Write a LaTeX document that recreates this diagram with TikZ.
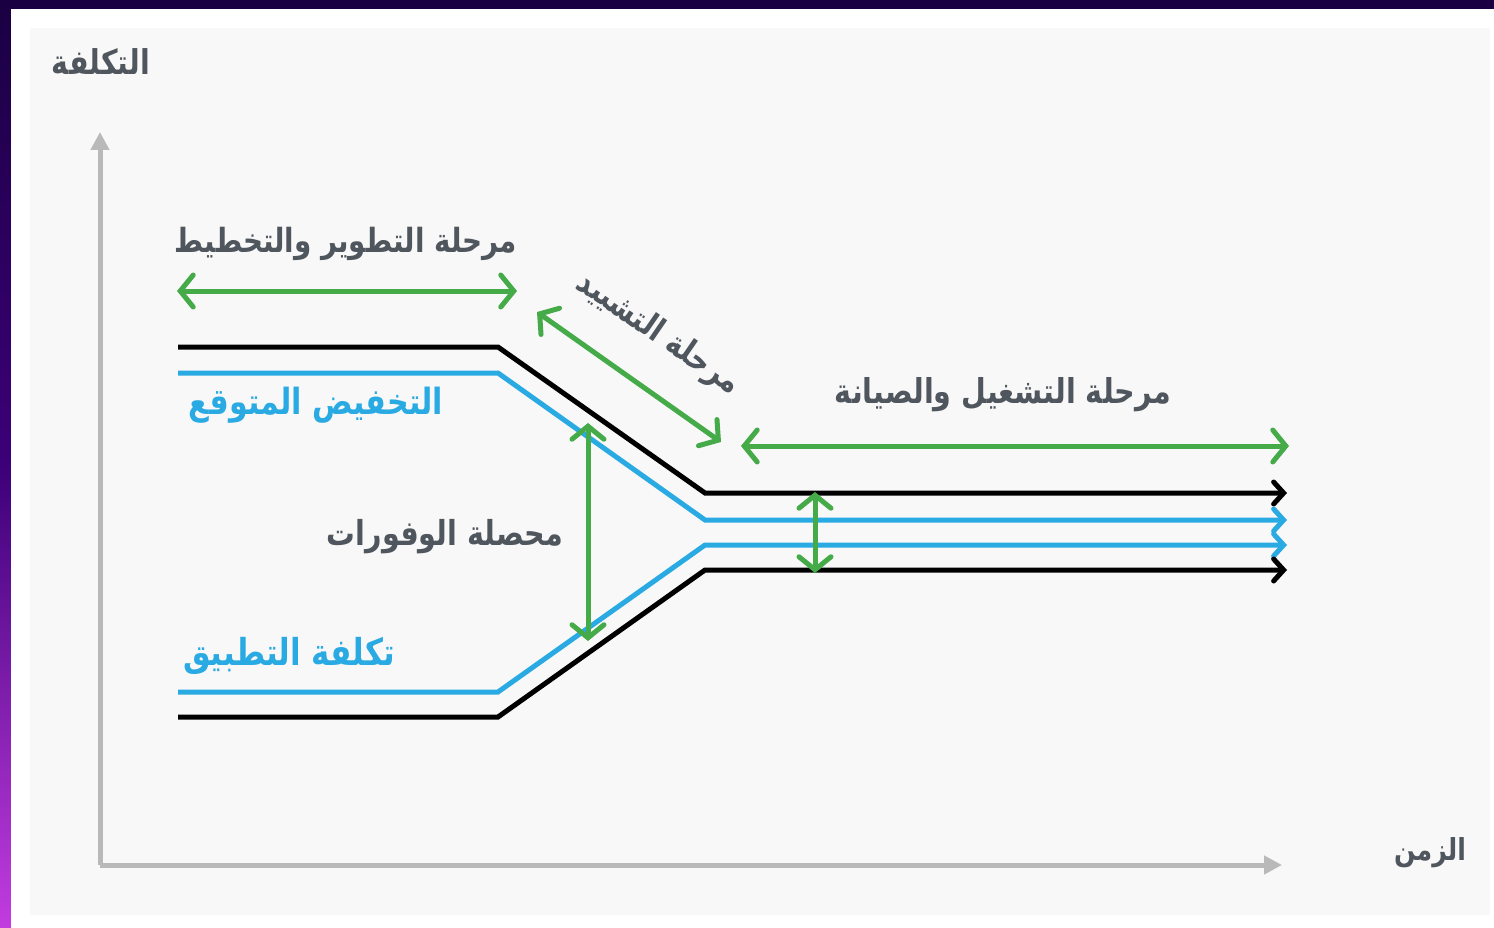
\documentclass[tikz,border=0pt]{standalone}
\usepackage{fontspec}
\usetikzlibrary{arrows.meta}
\TeXXeTstate=1
\newfontfamily\arabicfont[Script=Arabic]{DejaVu Sans}
\definecolor{framedark}{HTML}{1A0042}
\definecolor{framemid}{HTML}{3C0078}
\definecolor{framelight}{HTML}{C23CE0}
\definecolor{panel}{HTML}{F8F8F8}
\definecolor{axisgrey}{HTML}{B9B9B9}
\definecolor{textgrey}{HTML}{50565E}
\definecolor{costblue}{HTML}{2AAAE2}
\definecolor{phasegreen}{HTML}{45AA48}
% text scaled to a given width in pt, slightly taller than its natural shape
\newcommand{\fitw}[2]{\scalebox{1}[1.2]{\resizebox{#1pt}{!}{\arabicfont\bfseries #2}}}
\begin{document}
\begin{tikzpicture}[x=1pt,y=-1pt,
  axisline/.style={draw=axisgrey,line width=5pt,-{Triangle[length=18pt,width=18pt]}},
  costline/.style={line width=5pt,line join=miter,-{Straight Barb[length=10pt,width=22pt,line cap=round]}},
  phasearrow/.style={draw=phasegreen,line width=5pt,line cap=round,
    {Straight Barb[length=13pt,width=32pt,line cap=round]}-{Straight Barb[length=13pt,width=32pt,line cap=round]}},
  label/.style={inner sep=0pt,text=textgrey},
  bluelabel/.style={inner sep=0pt,text=costblue}]
\useasboundingbox (0,0) rectangle (1494,928);
% frame and panel
\fill[framedark] (0,0) rectangle (1494,928);
\shade[top color=framedark,bottom color=framelight,middle color=framemid] (0,0) rectangle (11,928);
\fill[white] (11,9) rectangle (1494,928);
\fill[panel] (30,28) rectangle (1490,915);
% axes
\coordinate (origin) at (100,865);
\coordinate (ytop) at (100,132);
\coordinate (xend) at (1282,865);
\draw[axisline] (origin) -- (ytop);
\draw[axisline] (origin) -- (xend);
\node[label] (ylabel) at (101,62) {\fitw{98}{\beginR التكلفة\endR}};
\node[label] (xlabel) at (1430,853) {\fitw{72}{\beginR الزمن\endR}};
% cost curves
\coordinate (a0) at (178,347); \coordinate (a1) at (498,347); \coordinate (a2) at (705,493); \coordinate (a3) at (1287,493);
\coordinate (b0) at (178,373); \coordinate (b1) at (498,373); \coordinate (b2) at (705,520); \coordinate (b3) at (1287,520);
\coordinate (c0) at (178,692); \coordinate (c1) at (498,692); \coordinate (c2) at (705,545); \coordinate (c3) at (1287,545);
\coordinate (d0) at (178,717); \coordinate (d1) at (498,717); \coordinate (d2) at (705,570); \coordinate (d3) at (1287,570);
\draw[costline,draw=black] (a0) -- (a1) -- (a2) -- (a3);
\draw[costline,draw=costblue] (b0) -- (b1) -- (b2) -- (b3);
\draw[costline,draw=costblue] (c0) -- (c1) -- (c2) -- (c3);
\draw[costline,draw=black] (d0) -- (d1) -- (d2) -- (d3);
% phase arrows
\coordinate (p1l) at (177,291); \coordinate (p1r) at (517,291);
\coordinate (p2a) at (537,312); \coordinate (p2b) at (721,442);
\coordinate (p3l) at (741,446); \coordinate (p3r) at (1289,446);
\coordinate (s1t) at (588,423); \coordinate (s1b) at (588,641);
\coordinate (s2t) at (815,492); \coordinate (s2b) at (815,573);
\draw[phasearrow] (p1l) -- (p1r);
\draw[phasearrow] (p2a) -- (p2b);
\draw[phasearrow] (p3l) -- (p3r);
\draw[phasearrow] (s1t) -- (s1b);
\draw[phasearrow] (s2t) -- (s2b);
% labels
\node[label] (plan) at (346,244) {\fitw{342}{\beginR مرحلة التطوير والتخطيط\endR}};
\node[label,rotate=-34.5] (build) at (658,334) {\fitw{190}{\beginR مرحلة التشييد\endR}};
\node[label] (operate) at (1003,395) {\fitw{336}{\beginR مرحلة التشغيل والصيانة\endR}};
\node[bluelabel] (reduce) at (316,405) {\fitw{254}{\beginR التخفيض المتوقع\endR}};
\node[label] (savings) at (445,537) {\fitw{236}{\beginR محصلة الوفورات\endR}};
\node[bluelabel] (apply) at (289,656) {\fitw{212}{\beginR تكلفة التطبيق\endR}};
\end{tikzpicture}
\end{document}
